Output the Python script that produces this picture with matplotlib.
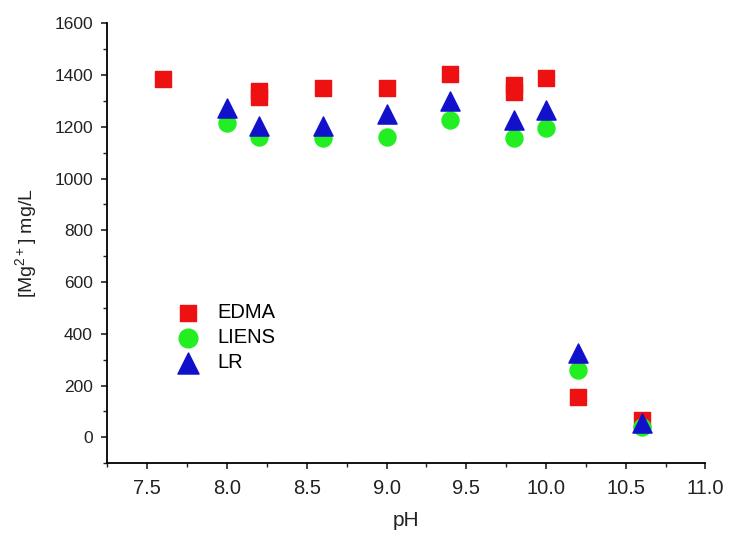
import matplotlib.pyplot as plt
from matplotlib.ticker import MultipleLocator

plt.rcParams['font.family'] = ['Liberation Sans', 'DejaVu Sans']
plt.rcParams['mathtext.fontset'] = 'custom'
plt.rcParams['mathtext.rm'] = 'Liberation Sans'

# EDMA (squares)
ph_edma = [7.6, 8.2, 8.2, 8.6, 9.0, 9.4, 9.8, 9.8, 10.0, 10.2, 10.6]
mg_edma = [1385, 1340, 1315, 1350, 1350, 1405, 1362, 1335, 1390, 155, 65]

# LIENS (circles)
ph_liens = [8.0, 8.2, 8.6, 9.0, 9.4, 9.8, 10.0, 10.2, 10.6]
mg_liens = [1215, 1160, 1158, 1160, 1225, 1158, 1195, 262, 38]

# LR (triangles)
ph_lr = [8.0, 8.2, 8.6, 9.0, 9.4, 9.8, 10.0, 10.2, 10.6]
mg_lr = [1272, 1205, 1205, 1250, 1298, 1228, 1265, 325, 55]

fig = plt.figure(figsize=(7.31, 5.43), dpi=100)
ax = fig.add_axes([0.147, 0.147, 0.818, 0.81])

ax.scatter(ph_edma, mg_edma, marker='s', s=120, color='#ee1111', label='EDMA', zorder=3)
ax.scatter(ph_liens, mg_liens, marker='o', s=150, color='#22ee22', label='LIENS', zorder=4)
ax.scatter(ph_lr, mg_lr, marker='^', s=190, color='#1111cc', label='LR', zorder=5)

ax.set_xlim(7.25, 11.0)
ax.set_ylim(-100, 1600)
ax.xaxis.set_major_locator(MultipleLocator(0.5))
ax.xaxis.set_minor_locator(MultipleLocator(0.25))
ax.yaxis.set_major_locator(MultipleLocator(200))
ax.yaxis.set_minor_locator(MultipleLocator(100))
ax.xaxis.set_major_formatter(plt.FormatStrFormatter('%.1f'))

for side in ('top', 'right'):
    ax.spines[side].set_visible(False)
for side in ('left', 'bottom'):
    ax.spines[side].set_linewidth(1.3)
ax.tick_params(which='major', direction='out', length=4.5, width=1.2, colors='#222222')
ax.tick_params(which='minor', direction='out', length=3, width=1.0, colors='#222222')
ax.tick_params(axis='x', which='major', labelsize=14.5, pad=7)
ax.tick_params(axis='y', which='major', labelsize=12.5, pad=6)

ax.set_xlabel('pH', fontsize=15, labelpad=9, color='#222222')
ax.set_ylabel(r'[Mg$^{\mathregular{2+}}$] mg/L', fontsize=14, labelpad=10, color='#222222')

ax.legend(loc='upper left', bbox_to_anchor=(0.07, 0.405), frameon=False,
          fontsize=14.5, handletextpad=0.5, labelspacing=0.3, markerscale=1.1)

fig.savefig('out.png', dpi=100)
